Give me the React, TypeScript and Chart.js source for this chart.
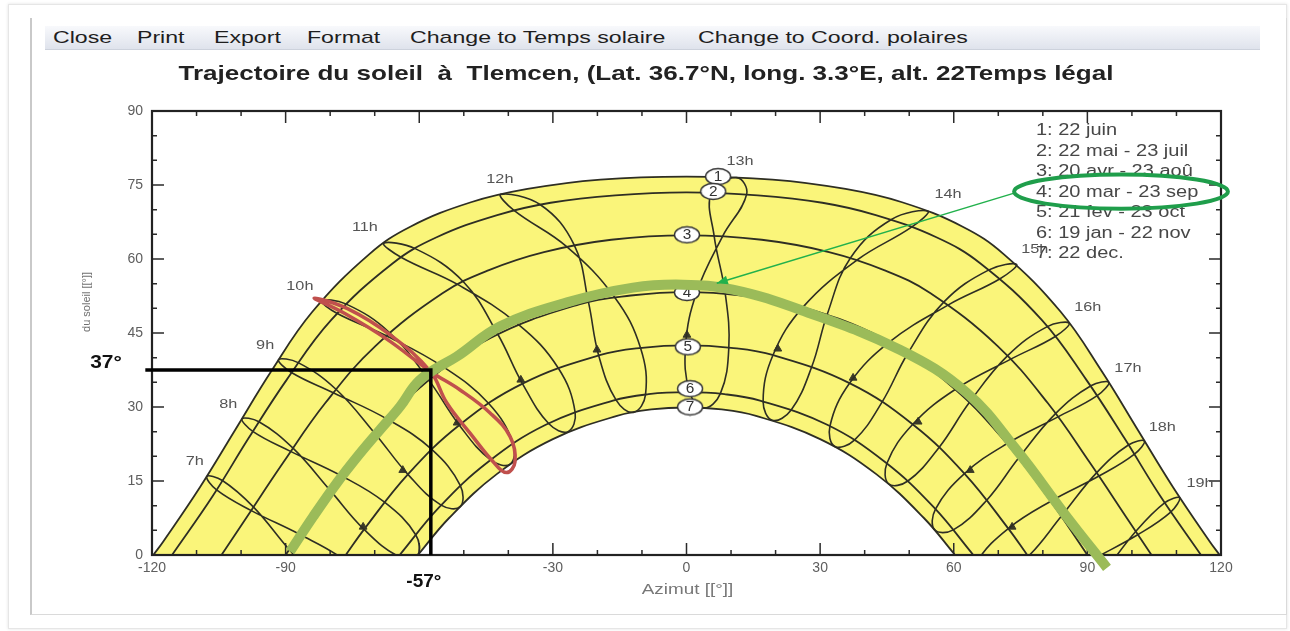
import React, { useEffect, useRef } from 'react';
import { Chart, registerables } from 'chart.js';

Chart.register(...registerables);

type P = [number, number];

// ---------------- data (azimut °, hauteur °) ----------------
const X_TICKS = [-120, -90, -60, -30, 0, 30, 60, 90, 120];
const Y_TICKS = [0, 15, 30, 45, 60, 75, 90];

// day curves
const DAY_1: P[] = [[-119.7, 0], [-117.5, 2.7], [-109.2, 13.8], [-101.3, 25.4], [-93.2, 37.3], [-84.0, 49.3], [-71.2, 61.0], [-61.9, 66.6], [-48.4, 71.5], [-35.7, 74.2], [-19.3, 76.1], [0, 76.7], [19.3, 76.1], [35.7, 74.2], [48.4, 71.5], [61.9, 66.6], [71.2, 61.0], [84.0, 49.3], [93.2, 37.3], [101.3, 25.4], [109.2, 13.8], [117.5, 2.7], [119.7, 0]];
const DAY_2: P[] = [[-115.5, 0], [-106.4, 11.9], [-98.3, 23.7], [-89.7, 35.6], [-79.8, 47.6], [-66.0, 59.1], [-56.1, 64.4], [-42.5, 68.9], [-30.5, 71.4], [-16.0, 72.9], [0, 73.5], [16.0, 72.9], [30.5, 71.4], [42.5, 68.9], [56.1, 64.4], [66.0, 59.1], [79.8, 47.6], [89.7, 35.6], [98.3, 23.7], [106.4, 11.9], [115.5, 0]];
const DAY_3: P[] = [[-104.4, 0], [-99.3, 6.9], [-90.5, 18.8], [-81.1, 30.8], [-69.8, 42.4], [-54.7, 53.1], [-44.5, 57.7], [-32.0, 61.4], [-16.9, 63.9], [0, 64.8], [16.9, 63.9], [32.0, 61.4], [44.5, 57.7], [54.7, 53.1], [69.8, 42.4], [81.1, 30.8], [90.5, 18.8], [99.3, 6.9], [104.4, 0]];
const DAY_4: P[] = [[-90, 0], [-80.9, 12.0], [-71.0, 23.6], [-59.1, 34.5], [-44.0, 44.0], [-24.1, 50.8], [-12.5, 52.6], [0, 53.3], [12.5, 52.6], [24.1, 50.8], [44.0, 44.0], [59.1, 34.5], [71.0, 23.6], [80.9, 12.0], [90, 0]];
const DAY_5: P[] = [[-76.5, 0], [-72.3, 5.3], [-62.5, 16.4], [-50.9, 26.4], [-36.7, 34.8], [-19.5, 40.5], [-10.0, 42.0], [0, 42.5], [10.0, 42.0], [19.5, 40.5], [36.7, 34.8], [50.9, 26.4], [62.5, 16.4], [72.3, 5.3], [76.5, 0]];
const DAY_6: P[] = [[-64.4, 0], [-55.5, 9.7], [-44.5, 18.9], [-31.6, 26.4], [-16.5, 31.3], [-8.5, 32.6], [0, 33.0], [8.5, 32.6], [16.5, 31.3], [31.6, 26.4], [44.5, 18.9], [55.5, 9.7], [64.4, 0]];
const DAY_7: P[] = [[-60.3, 0], [-53.3, 7.5], [-42.6, 16.4], [-30.0, 23.5], [-15.6, 28.2], [-7.9, 29.5], [0, 29.9], [7.9, 29.5], [15.6, 28.2], [30.0, 23.5], [42.6, 16.4], [53.3, 7.5], [60.3, 0]];

// hour lines (analemmas), points: 22 juin, 23 juil, 23 aoû, 23 sep, 23 oct, 22 nov, 22 dec, 19 jan, 21 fev, 20 mar, 20 avr, 22 mai
const HOUR_07: P[] = [[-107.7, 15.9], [-105.5, 13.2], [-97.7, 9.0], [-86.9, 4.2], [-77.1, -0.8], [-69.7, -6.8], [-68.9, -11.0], [-73.1, -11.5], [-81.4, -6.5], [-89.2, 1.1], [-97.2, 9.7], [-104.2, 15.1]];
const HOUR_08: P[] = [[-99.8, 27.6], [-97.3, 25.0], [-88.9, 21.0], [-77.6, 16.1], [-67.8, 10.7], [-60.8, 4.1], [-60.4, -0.1], [-64.6, -0.3], [-72.4, 5.2], [-80.0, 13.1], [-88.4, 21.7], [-96.0, 27.0]];
const HOUR_09: P[] = [[-91.6, 39.6], [-88.7, 37.0], [-79.3, 32.9], [-67.1, 27.5], [-57.2, 21.4], [-50.8, 14.1], [-50.8, 9.8], [-55.1, 10.1], [-62.5, 16.3], [-70.0, 24.7], [-78.7, 33.6], [-87.2, 39.0]];
const HOUR_10: P[] = [[-81.9, 51.5], [-78.5, 49.0], [-67.5, 44.5], [-54.4, 38.0], [-44.4, 30.7], [-38.9, 22.6], [-39.6, 18.4], [-44.0, 19.3], [-51.0, 26.3], [-57.9, 35.5], [-66.7, 45.1], [-76.5, 50.9]];
const HOUR_11: P[] = [[-68.0, 63.2], [-64.0, 60.3], [-51.3, 54.8], [-37.7, 46.7], [-28.8, 37.9], [-25.0, 28.9], [-26.6, 25.0], [-30.9, 26.6], [-36.8, 34.7], [-42.4, 44.8], [-50.1, 55.4], [-60.9, 62.1]];
const HOUR_12: P[] = [[-41.7, 73.1], [-38.8, 69.9], [-26.9, 62.5], [-16.1, 52.2], [-10.3, 41.9], [-9.2, 32.5], [-11.9, 28.9], [-15.8, 31.4], [-19.7, 40.4], [-22.0, 51.2], [-25.2, 62.8], [-32.8, 71.0]];
const HOUR_13: P[] = [[11.3, 76.5], [5.6, 73.5], [6.2, 64.7], [8.7, 53.0], [9.5, 42.0], [7.6, 32.7], [3.9, 29.8], [0.7, 33.0], [-0.2, 42.5], [2.3, 53.3], [8.1, 64.6], [13.5, 73.1]];
const HOUR_14: P[] = [[54.2, 69.7], [46.0, 68.0], [36.8, 60.2], [31.6, 48.8], [28.1, 38.1], [23.5, 29.4], [19.3, 27.3], [17.2, 31.1], [19.4, 40.5], [26.2, 50.3], [38.3, 59.8], [50.6, 66.5]];
const HOUR_15: P[] = [[74.1, 58.9], [67.9, 57.8], [57.8, 51.3], [49.7, 40.9], [43.9, 31.0], [37.7, 23.3], [33.3, 22.0], [32.2, 26.1], [36.6, 34.8], [45.6, 43.2], [58.8, 50.7], [70.4, 56.0]];
const HOUR_16: P[] = [[85.9, 47.0], [81.0, 46.3], [72.1, 40.4], [63.5, 30.9], [56.7, 21.8], [49.7, 15.0], [45.4, 14.4], [45.0, 18.6], [50.8, 26.5], [60.4, 33.6], [72.8, 39.7], [82.8, 44.3]];
const HOUR_17: P[] = [[94.8, 35.0], [90.8, 34.3], [82.9, 28.7], [74.6, 19.7], [67.4, 11.1], [59.9, 5.1], [55.7, 5.1], [55.9, 9.3], [62.4, 16.5], [72.0, 22.6], [83.4, 28.0], [92.2, 32.3]];
const HOUR_18: P[] = [[102.8, 23.1], [99.2, 22.3], [92.1, 16.7], [84.1, 7.8], [76.7, -0.3], [68.9, -5.7], [64.6, -5.4], [65.3, -1.2], [72.3, 5.4], [81.8, 10.9], [92.6, 16.0], [100.5, 20.4]];
const HOUR_19: P[] = [[110.7, 11.6], [107.4, 10.6], [100.8, 4.7], [93.1, -4.2], [85.5, -12.2], [77.2, -17.2], [72.8, -16.6], [73.8, -12.5], [81.2, -6.3], [90.8, -1.1], [101.3, 4.1], [108.7, 8.7]];
const HOUR_LOOPS: P[][] = [HOUR_07, HOUR_08, HOUR_09, HOUR_10, HOUR_11, HOUR_12, HOUR_13, HOUR_14, HOUR_15, HOUR_16, HOUR_17, HOUR_18, HOUR_19];

const HOUR_LABELS = ['7h', '8h', '9h', '10h', '11h', '12h', '13h', '14h', '15h', '16h', '17h', '18h', '19h'];
const HOUR_LABEL_AT: P[] = [[-110.4, 18.9], [-102.9, 30.6], [-94.6, 42.4], [-86.8, 54.4], [-72.2, 66.4], [-41.9, 76.1], [12.0, 79.7], [58.7, 73.1], [78.2, 61.9], [90.1, 50.1], [99.1, 37.9], [106.8, 25.8], [115.3, 14.6]];

// small direction triangles (current date) on the hour lines
const DATE_MARKS: P[] = [[-72.6, 5.7], [-63.7, 17.2], [-51.5, 26.8], [-37.2, 35.5], [-20.1, 41.6], [0.1, 44.6], [20.5, 41.8], [37.4, 35.9], [52.0, 27.0], [63.7, 17.2], [73.1, 5.7]];

const LEGEND_ITEMS = ['1: 22 juin', '2: 22 mai - 23 juil', '3: 20 avr - 23 aoû', '4: 20 mar - 23 sep', '5: 21 fev - 23 oct', '6: 19 jan - 22 nov', '7: 22 dec.'];
const MARKER_TEXT = ['1', '2', '3', '4', '5', '6', '7'];
const MARKER_AT: P[] = [[7.1, 76.7], [6.0, 73.7], [0.1, 64.9], [0.1, 53.2], [0.3, 42.2], [0.8, 33.7], [0.8, 30.0]];

// hand-drawn highlights
const EQUINOX_PATH: P[] = [[-89.0, 0.7], [-83.8, 7.8], [-78.5, 14.6], [-73.3, 20.6], [-68.8, 25.4], [-64.3, 30.1], [-60.6, 34.8], [-56.8, 37.5], [-51.6, 40.2], [-41.9, 46.3], [-26.8, 51.2], [-12.0, 54.2], [-0.8, 54.8], [10.4, 53.8], [25.5, 49.7], [47.9, 41.6], [62.9, 32.9], [74.1, 21.3], [85.4, 7.7], [94.4, -2.6]];
const LOOP_10H: P[] = [[-83.6, 52.1], [-76.0, 49.9], [-66.5, 44.6], [-57.5, 37.2], [-53.8, 30.8], [-48.6, 24.7], [-43.4, 18.9], [-40.4, 16.7], [-38.5, 18.9], [-39.6, 24.0], [-44.1, 28.8], [-50.9, 33.5], [-57.5, 37.2], [-67.2, 43.7], [-76.6, 48.9]];
const GUIDE_37: P[] = [[-121.5, 37.5], [-57.4, 37.5], [-57.4, 0]];
const ARROW: P[] = [[73.75, 73.4], [6.8, 55.1]];
const OVAL_CENTER: P = [97.55, 73.66];
const OVAL_RADII: P = [24.0, 3.45];

const MENU_ITEMS = ['Close', 'Print', 'Export', 'Format', 'Change to Temps solaire', 'Change to Coord. polaires'];
const MENU_LEFT = [53, 137, 214, 307, 410, 698];
const TITLE = 'Trajectoire du soleil  à  Tlemcen, (Lat. 36.7°N, long. 3.3°E, alt. 22Temps légal';

// ---------------- helpers ----------------
const FONT = '"Liberation Sans", Arial, sans-serif';
const LINE = '#2e2e24';

const toXY = (pts: P[]) => pts.map(([x, y]) => ({ x, y }));

function drawText(ctx: CanvasRenderingContext2D, s: string, x: number, y: number, size: number, color: string,
  align: CanvasTextAlign = 'center', sx = 1.25, weight = 'normal') {
  ctx.save();
  ctx.font = `${weight} ${size}px ${FONT}`;
  ctx.fillStyle = color;
  ctx.textBaseline = 'middle';
  ctx.textAlign = align;
  ctx.translate(x, y);
  ctx.scale(sx, 1);
  ctx.fillText(s, 0, 0);
  ctx.restore();
}

function lineDs(label: string, pts: P[], extra: any = {}) {
  return {
    label,
    data: toXY(pts),
    showLine: true,
    pointRadius: 0,
    pointHoverRadius: 0,
    borderColor: LINE,
    borderWidth: 1.8,
    tension: 0.4,
    fill: false,
    ...extra,
  };
}

function loopDs(label: string, pts: P[], extra: any = {}) {
  const n = pts.length;
  const wrapped: P[] = [pts[n - 1], ...pts, pts[0], pts[1]];
  return lineDs(label, wrapped, {
    segment: {
      borderColor: (c: any) => (c.p0DataIndex === 0 || c.p0DataIndex === n + 1 ? 'rgba(0,0,0,0)' : undefined),
    },
    ...extra,
  });
}

const overlayPlugin = {
  id: 'overlay',
  afterDatasetDraw(chart: any, args: any) {
    const ds = chart.data.datasets[args.index];
    if (ds.label !== 'markers') return;
    const ctx: CanvasRenderingContext2D = chart.ctx;
    const a = chart.chartArea;
    const xs = chart.scales.x;
    const ys = chart.scales.y;
    ctx.save();
    ctx.strokeStyle = '#2a2a2a';
    ctx.lineWidth = 1.5;
    ctx.beginPath();
    for (let v = -120; v <= 120; v += 10) {
      const px = xs.getPixelForValue(v);
      const len = v % 30 === 0 ? 12 : 5;
      ctx.moveTo(px, a.bottom); ctx.lineTo(px, a.bottom - len);
      ctx.moveTo(px, a.top); ctx.lineTo(px, a.top + len);
    }
    for (let v = 0; v <= 90; v += 5) {
      const py = ys.getPixelForValue(v);
      const len = v % 15 === 0 ? 12 : 5;
      ctx.moveTo(a.left, py); ctx.lineTo(a.left + len, py);
      ctx.moveTo(a.right, py); ctx.lineTo(a.right - len, py);
    }
    ctx.stroke();
    ctx.lineWidth = 2.2;
    ctx.strokeStyle = '#222';
    ctx.strokeRect(a.left, a.top, a.right - a.left, a.bottom - a.top);
    ctx.restore();
    MARKER_AT.forEach(([x, y], i) => {
      drawText(ctx, MARKER_TEXT[i], xs.getPixelForValue(x), ys.getPixelForValue(y) + 0.5, 14, '#333', 'center', 1.1);
    });
  },
  afterDatasetsDraw(chart: any) {
    const ctx: CanvasRenderingContext2D = chart.ctx;
    const a = chart.chartArea;
    const xs = chart.scales.x;
    const ys = chart.scales.y;

    HOUR_LABELS.forEach((t, i) => {
      const [x, y] = HOUR_LABEL_AT[i];
      drawText(ctx, t, xs.getPixelForValue(x), ys.getPixelForValue(y), 13, '#555');
    });
    LEGEND_ITEMS.forEach((t, i) => {
      drawText(ctx, t, a.right - 185, a.top + 20 + i * 20.5, 16, '#474747', 'left');
    });

    // oval around legend item 4
    const cx = xs.getPixelForValue(OVAL_CENTER[0]);
    const cy = ys.getPixelForValue(OVAL_CENTER[1]);
    const rx = xs.getPixelForValue(OVAL_CENTER[0] + OVAL_RADII[0]) - cx;
    const ry = cy - ys.getPixelForValue(OVAL_CENTER[1] + OVAL_RADII[1]);
    ctx.save();
    ctx.beginPath();
    ctx.ellipse(cx, cy, rx, ry, 0, 0, Math.PI * 2);
    ctx.strokeStyle = '#1f9e4b';
    ctx.lineWidth = 4;
    ctx.stroke();

    // arrow head
    const sx = xs.getPixelForValue(ARROW[0][0]);
    const sy = ys.getPixelForValue(ARROW[0][1]);
    const ex = xs.getPixelForValue(ARROW[1][0]);
    const ey = ys.getPixelForValue(ARROW[1][1]);
    const ang = Math.atan2(ey - sy, ex - sx);
    const c = Math.cos(ang);
    const s = Math.sin(ang);
    ctx.beginPath();
    ctx.moveTo(ex, ey);
    ctx.lineTo(ex - 11 * c - 4.5 * s, ey - 11 * s + 4.5 * c);
    ctx.lineTo(ex - 11 * c + 4.5 * s, ey - 11 * s - 4.5 * c);
    ctx.closePath();
    ctx.fillStyle = '#22b14c';
    ctx.fill();

    // white box of the "-57°" note (hides the -60 tick label, as in the original)
    const vx = xs.getPixelForValue(-57.4);
    ctx.fillStyle = '#ffffff';
    ctx.fillRect(vx - 34, a.bottom + 4, 52, 34);
    ctx.restore();

    // annotations
    drawText(ctx, '37°', a.left - 46, ys.getPixelForValue(37.5) - 7, 19, '#111', 'center', 1.1, 'bold');
    drawText(ctx, '-57°', vx - 7, a.bottom + 27, 19, '#111', 'center', 1.0, 'bold');

    // axis titles
    drawText(ctx, 'Azimut [[°]]', (a.left + a.right) / 2 + 1, a.bottom + 35, 14, '#777', 'center', 1.35);
    ctx.save();
    ctx.translate(a.left - 65, ys.getPixelForValue(51.3));
    ctx.rotate(-Math.PI / 2);
    ctx.font = `11px ${FONT}`;
    ctx.fillStyle = '#6f6f6f';
    ctx.textAlign = 'center';
    ctx.textBaseline = 'middle';
    ctx.fillText('du soleil [[°]]', 0, 0);
    ctx.restore();
  },
};

export default function App() {
  const ref = useRef<HTMLCanvasElement>(null);

  useEffect(() => {
    const canvas = ref.current;
    if (!canvas) return;

    const marker = document.createElement('canvas');
    marker.width = 28;
    marker.height = 19;
    const mc = marker.getContext('2d')!;
    mc.beginPath();
    mc.ellipse(14, 9.5, 12.5, 8, 0, 0, Math.PI * 2);
    mc.fillStyle = '#ffffff';
    mc.fill();
    mc.lineWidth = 1.4;
    mc.strokeStyle = '#333';
    mc.stroke();

    const datasets: any[] = [
      lineDs('day1', DAY_1, { fill: 'origin', backgroundColor: '#faf57a', order: 30 }),
      lineDs('day7', DAY_7, { fill: 'origin', backgroundColor: '#ffffff', order: 29 }),
      lineDs('day2', DAY_2, { order: 28 }),
      lineDs('day3', DAY_3, { order: 28 }),
      lineDs('day4', DAY_4, { order: 28 }),
      lineDs('day5', DAY_5, { order: 28 }),
      lineDs('day6', DAY_6, { order: 28 }),
      ...HOUR_LOOPS.map((pts, i) => loopDs('hour' + HOUR_LABELS[i], pts, { borderWidth: 1.6, order: 27 })),
      {
        label: 'date marks',
        data: toXY(DATE_MARKS),
        showLine: false,
        pointStyle: 'triangle',
        pointRadius: 4.5,
        pointHoverRadius: 4.5,
        pointRotation: 0,
        backgroundColor: '#3a3a28',
        borderColor: '#3a3a28',
        borderWidth: 1,
        order: 27,
      },
      {
        label: 'markers',
        data: toXY(MARKER_AT),
        showLine: false,
        pointStyle: marker,
        pointRadius: 9,
        pointHoverRadius: 9,
        order: 26,
      },
      loopDs('red10h', LOOP_10H, { borderColor: '#c0504d', borderWidth: 3.5, order: 3, clip: false }),
      lineDs('green', EQUINOX_PATH, { borderColor: '#9bbb59', borderWidth: 10, order: 2, clip: false, borderCapStyle: 'butt' }),
      lineDs('arrow', ARROW, { borderColor: '#22b14c', borderWidth: 1.5, tension: 0, order: 1, clip: false }),
      lineDs('guide', GUIDE_37, { borderColor: '#000000', borderWidth: 3.5, tension: 0, order: 0, clip: false, borderJoinStyle: 'miter' }),
    ];

    const chart = new Chart(canvas, {
      type: 'scatter',
      data: { datasets },
      options: {
        animation: false,
        responsive: false,
        devicePixelRatio: 1,
        events: [],
        layout: { padding: { left: 0, right: 69, top: 111, bottom: 0 } },
        plugins: {
          legend: { display: false },
          tooltip: { enabled: false },
          title: { display: false },
        },
        scales: {
          x: {
            type: 'linear',
            min: -120,
            max: 120,
            afterBuildTicks: (s: any) => { s.ticks = X_TICKS.map((v) => ({ value: v })); },
            afterFit: (s: any) => { s.height = 76; },
            ticks: { color: '#5e5e5e', font: { family: FONT, size: 14 }, padding: 5, maxRotation: 0, autoSkip: false },
            grid: { display: false, drawTicks: false },
            border: { display: false },
          },
          y: {
            type: 'linear',
            min: 0,
            max: 90,
            afterBuildTicks: (s: any) => { s.ticks = Y_TICKS.map((v) => ({ value: v })); },
            afterFit: (s: any) => { s.width = 152; },
            ticks: { color: '#5e5e5e', font: { family: FONT, size: 14 }, padding: 9 },
            grid: { display: false, drawTicks: false },
            border: { display: false },
          },
        },
      },
      plugins: [overlayPlugin],
    } as any);

    return () => chart.destroy();
  }, []);

  return (
    <div style={{ position: 'absolute', left: 0, top: 0, width: 1290, height: 631, background: '#fff', overflow: 'hidden' }}>
      <div style={{ position: 'absolute', left: 8, top: 4, width: 1277, height: 623, border: '1px solid #e6e6e6', boxShadow: '0 0 3px rgba(0,0,0,0.12)' }} />
      <div style={{ position: 'absolute', left: 30, top: 18, width: 1254, height: 596, borderLeft: '2px solid #c9c9c9', borderRight: '1px solid #dadada', borderBottom: '1px solid #dadada' }} />
      <canvas ref={ref} width={1290} height={631} style={{ position: 'absolute', left: 0, top: 0, width: 1290, height: 631 }} />
      <div style={{ position: 'absolute', left: 45, top: 26, width: 1215, height: 23, background: 'linear-gradient(#f8f9fc, #dfe3ec)', borderBottom: '1px solid #cdd2dc' }}>
        {MENU_ITEMS.map((t, i) => (
          <span key={t} style={{ position: 'absolute', left: MENU_LEFT[i] - 45, top: 1, fontFamily: FONT, fontSize: 17, lineHeight: '21px', color: '#1e1e1e', whiteSpace: 'nowrap', transform: 'scaleX(1.36)', transformOrigin: 'left center' }}>{t}</span>
        ))}
      </div>
      <div style={{ position: 'absolute', left: 0, top: 60, width: 1292, textAlign: 'center', fontFamily: FONT, fontWeight: 'bold', fontSize: 21, lineHeight: '26px', color: '#222', whiteSpace: 'pre', transform: 'scaleX(1.24)', transformOrigin: 'center center' }}>{TITLE}</div>
    </div>
  );
}
